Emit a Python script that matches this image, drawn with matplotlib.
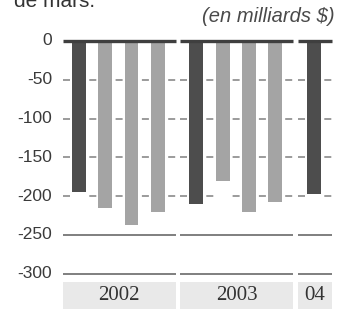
import matplotlib
matplotlib.use("Agg")
import matplotlib.pyplot as plt
import matplotlib.transforms as mtransforms
from matplotlib.patches import Rectangle

# deficit values (en milliards $)
years = ["2002", "2003", "04"]
values_2002 = [-195, -215, -237, -221]
values_2003 = [-210, -181, -221, -208]
values_2004 = [-197]
yticks = [0, -50, -100, -150, -200, -250, -300]

dark = "#4d4d4d"
light = "#a4a4a4"

plt.rcParams["lines.scale_dashes"] = False

fig = plt.figure(figsize=(3.49, 3.09), dpi=100)
ax = fig.add_axes([0, 0, 1, 1])
ax.set_xlim(-3.0, 10.27)
ax.set_ylim(-345.8, 52.9)
ax.axis("off")

groups = [values_2002, values_2003, values_2004]
gap = 1.47
start = 0.0
segments = []
for vals in groups:
    pos = [start + i for i in range(len(vals))]
    colors = [dark] + [light] * (len(vals) - 1)
    ax.bar(pos, vals, width=0.53, color=colors, zorder=3)
    segments.append((pos[0] - 0.61, pos[-1] + 0.68))
    start = pos[-1] + gap

# gridlines, broken between the groups
for left, right in segments:
    for y in yticks:
        if y == 0:
            ax.plot([left, right], [y, y], color="#3f3f3f", lw=2.4, zorder=4,
                    solid_capstyle="butt")
        elif y in (-250, -300):
            ax.plot([left, right], [y, y], color="#6a6a6a", lw=1.2, zorder=2,
                    solid_capstyle="butt")
        else:
            ax.plot([left, right], [y, y], color="#8a8a8a", lw=1.2, zorder=2,
                    linestyle=(0, (7 * 0.72, 19.3 * 0.72)), dash_capstyle="butt")

# year band along the bottom
trans = mtransforms.blended_transform_factory(ax.transData, ax.transAxes)
for (left, right), label in zip(segments, years):
    ax.add_patch(Rectangle((left, 0), right - left, 27 / 309, transform=trans,
                           facecolor="#e9e9e9", edgecolor="none", zorder=1))
    ax.text((left + right) / 2, 14 / 309, label, transform=trans, ha="center",
            va="center", fontsize=15, family="Liberation Serif", color="#333333")

for y in yticks:
    ax.text(-1.02, y, f"{y}" if y == 0 else f"-{abs(y)}", ha="right", va="center",
            fontsize=12.5, family="Liberation Sans", color="#3a3a3a")

ax.text(335 / 349, 1 - 17 / 309, "(en milliards $)", transform=ax.transAxes,
        ha="right", va="center", fontsize=14.5, style="italic",
        family="Liberation Sans", color="#4a4a4a")
ax.text(14 / 349, 1 - 7 / 309, "de mars.", transform=ax.transAxes, ha="left",
        va="baseline", fontsize=15, family="Liberation Sans", color="#333333")

fig.savefig("out.png", dpi=100, facecolor="white")
